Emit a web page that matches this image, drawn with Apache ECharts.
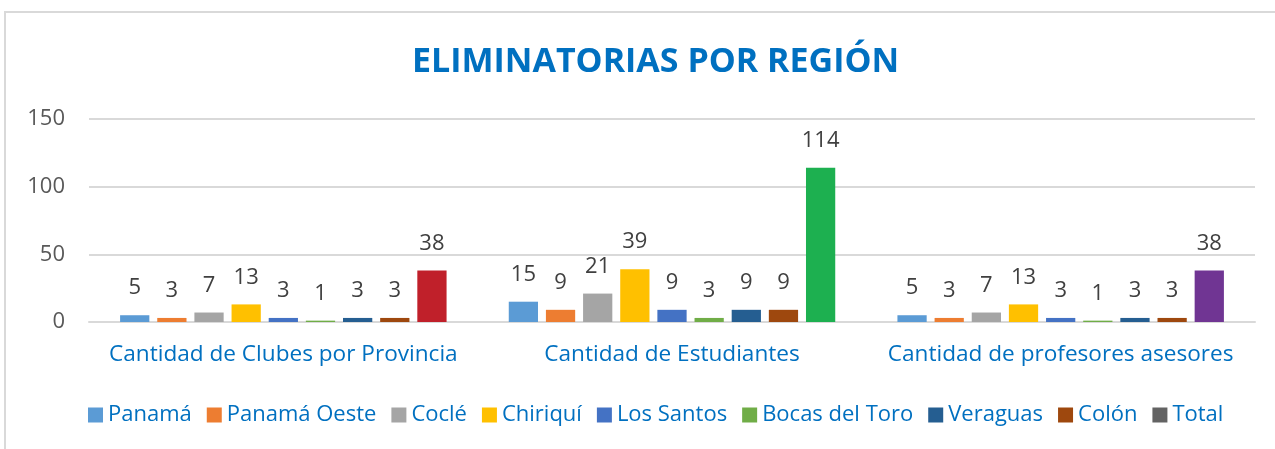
<!DOCTYPE html>
<html>
<head>
<meta charset="utf-8">
<script src="https://cdn.jsdelivr.net/npm/echarts@6/dist/echarts.min.js"></script>
<style>
  html, body { margin: 0; padding: 0; background: #fff; }
  #chart { width: 1275px; height: 449px; }
</style>
</head>
<body>
<div id="chart"></div>
<script>
const categories = ["Cantidad de Clubes por Provincia", "Cantidad de Estudiantes", "Cantidad de profesores asesores"];
const seriesNames = ["Panamá", "Panamá Oeste", "Coclé", "Chiriquí", "Los Santos", "Bocas del Toro", "Veraguas", "Colón", "Total"];
const seriesColors = ["#5B9BD5", "#ED7D31", "#A5A5A5", "#FFC000", "#4472C4", "#70AD47", "#255E91", "#9E480E", "#636363"];
const panama = [5, 15, 5];
const panamaOeste = [3, 9, 3];
const cocle = [7, 21, 7];
const chiriqui = [13, 39, 13];
const losSantos = [3, 9, 3];
const bocasDelToro = [1, 3, 1];
const veraguas = [3, 9, 3];
const colon = [3, 9, 3];
const total = [38, 114, 38];
const totalColors = ["#C0202A", "#1DB050", "#703593"];
const yTicks = { min: 0, max: 150, interval: 50 };

const values = [panama, panamaOeste, cocle, chiriqui, losSantos, bocasDelToro, veraguas, colon, total];
const font = "'Open Sans', sans-serif";

const chart = echarts.init(document.getElementById("chart"));

const series = values.map((data, i) => ({
    name: seriesNames[i],
    type: "bar",
    barGap: "27%",
    barCategoryGap: "16%",
    itemStyle: { color: seriesColors[i] },
    data: i === values.length - 1
        ? data.map((v, j) => ({ value: v, itemStyle: { color: totalColors[j] } }))
        : data,
    label: {
        show: true,
        position: "top",
        distance: 16,
        color: "#404040",
        fontSize: 22,
        fontFamily: font
    }
}));

chart.setOption({
    animation: false,
    title: {
        text: "ELIMINATORIAS POR REGIÓN",
        left: 407,
        top: 40,
        textStyle: { color: "#0070C0", fontSize: 34, fontWeight: "bold", fontFamily: font }
    },
    graphic: [{
        type: "rect",
        shape: { x: 5, y: 12, width: 1300, height: 500 },
        style: { fill: "none", stroke: "#D9D9D9", lineWidth: 2 },
        silent: true
    }],
    legend: {
        data: seriesNames,
        left: 83,
        top: 399,
        itemWidth: 15,
        itemHeight: 15,
        itemGap: 15,
        icon: "rect",
        textStyle: { color: "#0070C0", fontSize: 22, fontFamily: font }
    },
    grid: { left: 89, right: 20, top: 119, bottom: 127 },
    xAxis: {
        type: "category",
        data: categories,
        axisLine: { lineStyle: { color: "#D9D9D9", width: 2 } },
        axisTick: { show: false },
        axisLabel: { color: "#0070C0", fontSize: 22.6, fontFamily: font, margin: 21, interval: 0 }
    },
    yAxis: {
        type: "value",
        min: yTicks.min,
        max: yTicks.max,
        interval: yTicks.interval,
        axisLine: { show: false },
        axisTick: { show: false },
        splitLine: { lineStyle: { color: "#D9D9D9", width: 2 } },
        axisLabel: { color: "#595959", fontSize: 22, fontFamily: font, margin: 24 }
    },
    series
});
</script>
</body>
</html>
